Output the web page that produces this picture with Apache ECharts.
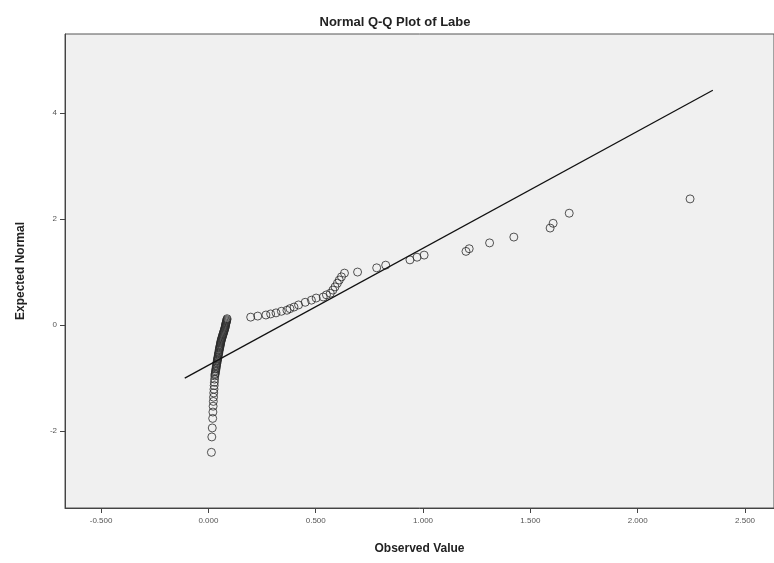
<!DOCTYPE html>
<html>
<head>
<meta charset="utf-8">
<script src="https://cdn.jsdelivr.net/npm/echarts@6/dist/echarts.min.js"></script>
<style>
  html, body { margin: 0; padding: 0; background: #fff; }
  #main { width: 774px; height: 563px; }
</style>
</head>
<body>
<div id="main"></div>
<script>
let observed = [
  0.014, 0.016, 0.018, 0.020, 0.021, 0.022, 0.023, 0.024, 0.025, 0.026,
  0.027, 0.028, 0.029, 0.030, 0.031, 0.032, 0.033, 0.034, 0.035, 0.036,
  0.037, 0.038, 0.039, 0.040, 0.041, 0.042, 0.043, 0.044, 0.045, 0.046,
  0.047, 0.048, 0.049, 0.050, 0.051, 0.052, 0.053, 0.054, 0.055, 0.056,
  0.057, 0.058, 0.059, 0.060, 0.062, 0.063, 0.065, 0.066, 0.068, 0.069,
  0.071, 0.072, 0.074, 0.075, 0.077, 0.078, 0.079, 0.080, 0.081, 0.082,
  0.084, 0.085, 0.086, 0.087,
  0.197, 0.230, 0.268, 0.290, 0.315, 0.340, 0.366, 0.380, 0.399, 0.420,
  0.451, 0.480, 0.502, 0.535, 0.550, 0.568, 0.580, 0.590, 0.601, 0.610,
  0.620, 0.634, 0.695, 0.784, 0.826, 0.939, 0.972, 1.005, 1.200, 1.215,
  1.310, 1.423, 1.592, 1.606, 1.681, 2.244
];
let expected = [
  -2.40, -2.11, -1.94, -1.76, -1.64, -1.53, -1.44, -1.36, -1.28, -1.21,
  -1.14, -1.08, -1.02, -0.96, -0.93, -0.91, -0.88, -0.86, -0.83, -0.81,
  -0.78, -0.76, -0.73, -0.71, -0.68, -0.66, -0.64, -0.62, -0.60, -0.57,
  -0.55, -0.53, -0.51, -0.48, -0.46, -0.44, -0.42, -0.40, -0.38, -0.36,
  -0.34, -0.32, -0.30, -0.28, -0.26, -0.24, -0.22, -0.20, -0.18, -0.16,
  -0.14, -0.12, -0.10, -0.08, -0.06, -0.04, -0.02, 0.00, 0.02, 0.04,
  0.06, 0.08, 0.10, 0.12,
  0.15, 0.17, 0.19, 0.21, 0.23, 0.26, 0.28, 0.31, 0.34, 0.38,
  0.43, 0.47, 0.51, 0.53, 0.57, 0.60, 0.66, 0.72, 0.79, 0.85,
  0.91, 0.98, 1.00, 1.08, 1.13, 1.23, 1.28, 1.32, 1.39, 1.44,
  1.55, 1.66, 1.83, 1.92, 2.11, 2.38
];

// reference line endpoints
let lineX = [-0.11, 2.35];
let lineY = [-1.0, 4.43];

// tick values
let xTicks = [-0.5, 0, 0.5, 1.0, 1.5, 2.0, 2.5];
let yTicks = [-2, 0, 2, 4];

let points = observed.map((v, i) => [v, expected[i]]);
let linePts = lineX.map((v, i) => [v, lineY[i]]);

let chart = echarts.init(document.getElementById('main'));
let option = {
  animation: false,
  backgroundColor: '#ffffff',
  title: {
    text: 'Normal Q-Q Plot of Labe',
    left: 390,
    textAlign: 'center',
    top: 11,
    textStyle: { fontFamily: 'Liberation Sans', fontSize: 13, fontWeight: 'bold', color: '#222' }
  },
  grid: {
    left: 65, top: 34, right: 0, bottom: 55,
    show: true,
    backgroundColor: '#f0f0f0',
    borderColor: '#555',
    borderWidth: 1
  },
  xAxis: {
    type: 'value',
    min: -0.668,
    max: 2.635,
    name: 'Observed Value',
    nameLocation: 'middle',
    nameGap: 35,
    nameTextStyle: { fontFamily: 'Liberation Sans', fontSize: 12, fontWeight: 'bold', color: '#222' },
    splitLine: { show: false },
    axisLine: { show: true, onZero: false, lineStyle: { color: '#444' } },
    axisTick: { show: true, length: 5, customValues: xTicks, lineStyle: { color: '#444' } },
    axisLabel: {
      customValues: xTicks,
      formatter: v => v.toFixed(3),
      fontFamily: 'Liberation Sans', fontSize: 8, color: '#555', margin: 9
    }
  },
  yAxis: {
    type: 'value',
    min: -3.45,
    max: 5.49,
    name: 'Expected Normal',
    nameLocation: 'middle',
    nameGap: 38,
    nameRotate: 90,
    nameTextStyle: { fontFamily: 'Liberation Sans', fontSize: 12, fontWeight: 'bold', color: '#222' },
    splitLine: { show: false },
    axisLine: { show: true, onZero: false, lineStyle: { color: '#444' } },
    axisTick: { show: true, length: 5, customValues: yTicks, lineStyle: { color: '#444' } },
    axisLabel: {
      customValues: yTicks,
      fontFamily: 'Liberation Sans', fontSize: 8, color: '#555', margin: 8
    }
  },
  series: [
    {
      type: 'line',
      data: linePts,
      showSymbol: false,
      lineStyle: { color: '#111', width: 1.3 },
      silent: true
    },
    {
      type: 'scatter',
      data: points,
      symbol: 'circle',
      symbolSize: 8,
      itemStyle: { color: 'rgba(0,0,0,0)', borderColor: '#2a2a2a', borderWidth: 1 }
    }
  ]
};
chart.setOption(option);
</script>
</body>
</html>
